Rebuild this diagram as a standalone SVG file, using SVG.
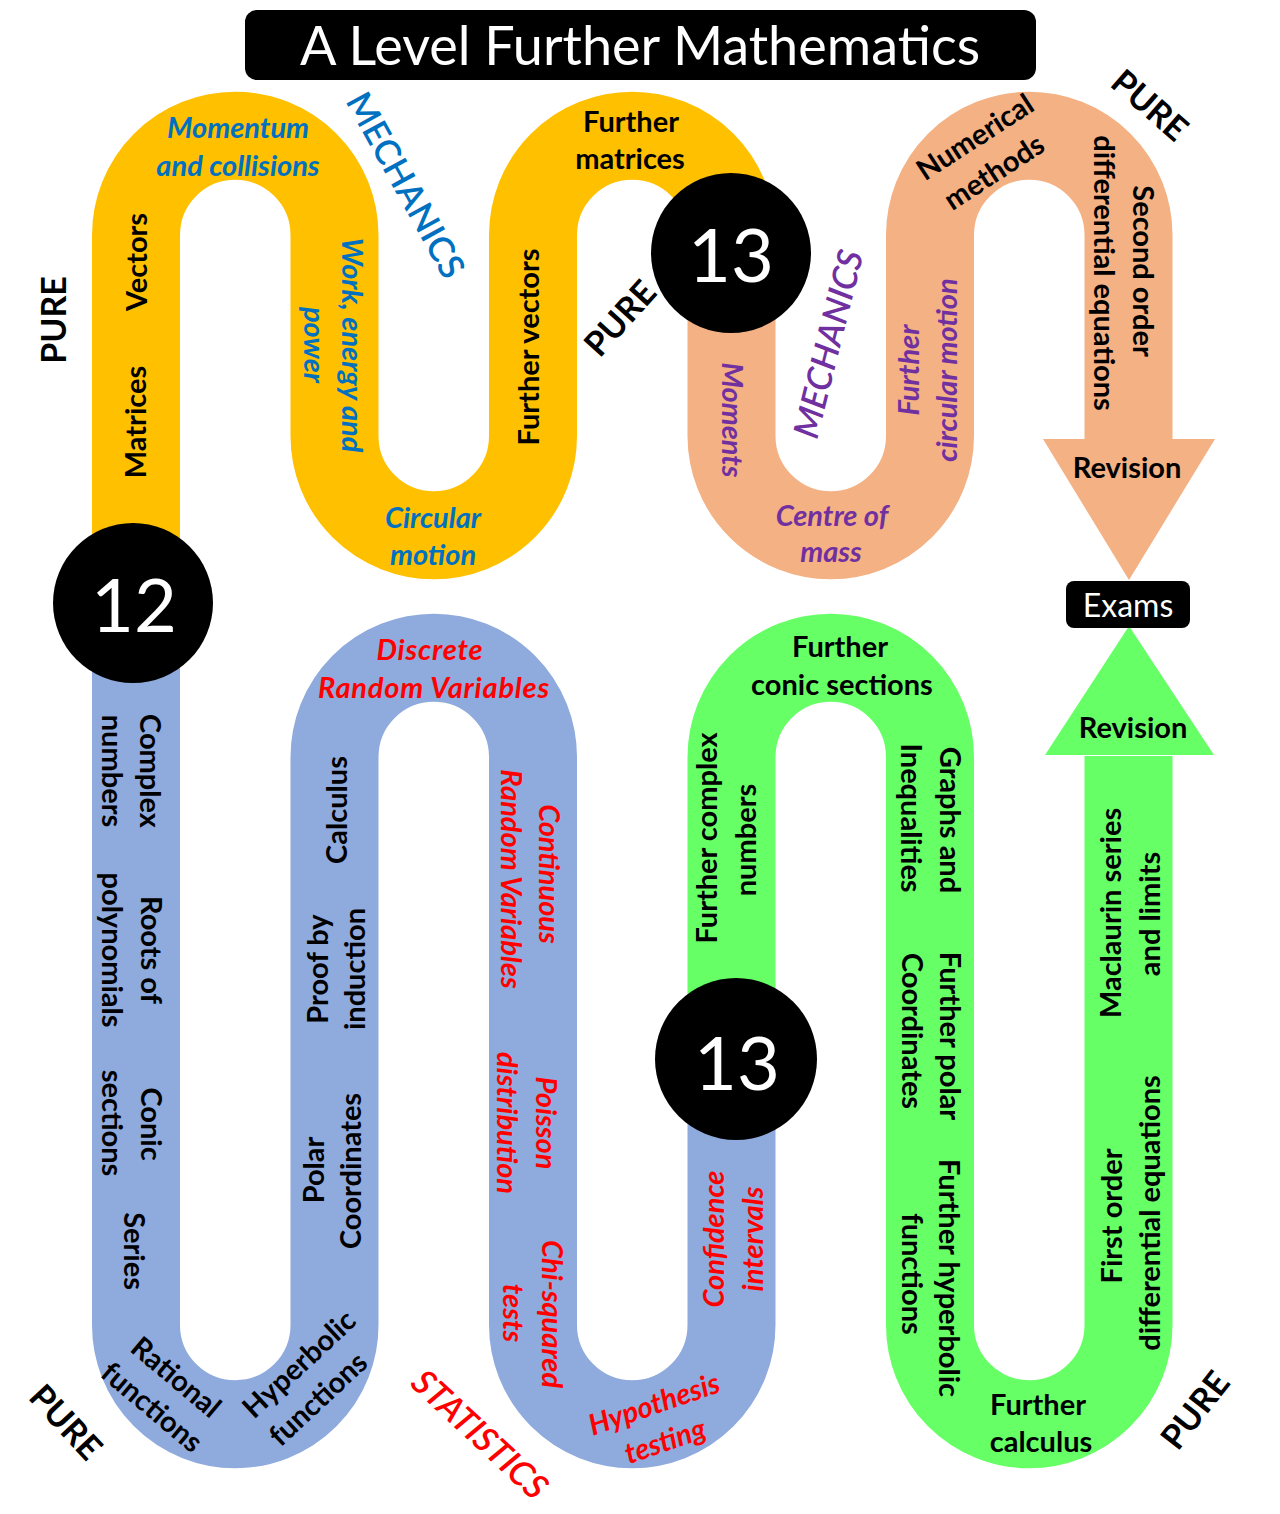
<svg xmlns="http://www.w3.org/2000/svg" width="1280" height="1514" viewBox="0 0 1280 1514">
<style>
text { font-family: Lato, "Open Sans", "Liberation Sans", sans-serif; text-anchor: middle; }
.band { fill: none; stroke-width: 88; stroke-linecap: butt; stroke-linejoin: round; }
.b { font-weight: 700; font-size: 29px; fill: #000; }
.it { font-style: italic; font-weight: 700; font-size: 29px; }
.blue { fill: #0070C0; }
.purple { fill: #7030A0; }
.red { fill: #FF0000; }
.pure { font-weight: 700; font-size: 34px; fill: #000; }
.sec { font-weight: 600; font-size: 35px; }
.num { font-size: 74px; fill: #fff; }
.dot { fill: #000; }
.wide { letter-spacing: 0.8px; }
</style>
<rect width="1280" height="1514" fill="#fff"/>

<g id="connectors">
  <path id="road-yellow" class="band" stroke="#FFC000" d="M136,603 V235 A99.25,99.25 0 0 1 334.5,235 V436 A99.25,99.25 0 0 0 533,436 V235 A99.25,99.25 0 0 1 731.5,235 V253"/>
  <path id="road-orange" class="band" stroke="#F4B183" d="M731.5,253 V436 A99.25,99.25 0 0 0 930,436 V235 A99.25,99.25 0 0 1 1128.5,235 V440"/>
  <polygon id="arrow-orange" fill="#F4B183" points="1043,439 1215,439 1129,580"/>
  <path id="road-blue" class="band" stroke="#8FAADC" d="M731.5,1059 V1325 A99.25,99.25 0 0 1 533,1325 V757 A99.25,99.25 0 0 0 334.5,757 V1325 A99.25,99.25 0 0 1 136,1325 V603"/>
  <path id="road-green" class="band" stroke="#66FF66" d="M1128.5,756 V1325 A99.25,99.25 0 0 1 930,1325 V757 A99.25,99.25 0 0 0 731.5,757 V1059"/>
  <polygon id="arrow-green" fill="#66FF66" points="1045,755 1214,755 1129,626"/>
</g>

<g id="title">
  <rect x="245" y="10" width="791" height="70" rx="12" fill="#000"/>
  <text x="640" y="65" font-size="54" fill="#fff">A Level Further Mathematics</text>
</g>

<g id="year-12">
  <circle class="dot" cx="133" cy="603" r="80"/>
  <text class="num" x="134" y="632">12</text>
</g>
<g id="year-13-top">
  <circle class="dot" cx="731" cy="253" r="80"/>
  <text class="num" x="731" y="282">13</text>
</g>
<g id="year-13-bottom">
  <circle class="dot" cx="736" cy="1059" r="81"/>
  <text class="num" x="737" y="1090">13</text>
</g>

<g id="exams">
  <rect x="1066" y="581" width="124" height="47" rx="8" fill="#000"/>
  <text x="1128" y="617" font-size="32" fill="#fff">Exams</text>
</g>

<g id="section-labels">
  <text class="pure" transform="translate(54,320) rotate(-90)" dy=".36em">PURE</text>
  <text class="sec blue" transform="translate(406,185) rotate(61)" dy=".36em">MECHANICS</text>
  <text class="pure" transform="translate(620,318) rotate(-48)" dy=".36em">PURE</text>
  <text class="sec purple" font-style="italic" transform="translate(828,344) rotate(-76)" dy=".36em">MECHANICS</text>
  <text class="pure" transform="translate(1150,105) rotate(41)" dy=".36em">PURE</text>
  <text class="pure" transform="translate(66,1422) rotate(47)" dy=".36em">PURE</text>
  <text class="sec red" font-style="italic" transform="translate(480,1434) rotate(43)" dy=".36em">STATISTICS</text>
  <text class="pure" transform="translate(1195,1410) rotate(-52)" dy=".36em">PURE</text>
</g>

<g id="topics">
  <g id="t-momentum">
    <text class="it blue" x="238" y="138">Momentum</text>
    <text class="it blue" x="238" y="176">and collisions</text>
  </g>
  <g id="t-vectors"><text class="b" transform="translate(137,262) rotate(-90)" dy=".35em">Vectors</text></g>
  <g id="t-matrices"><text class="b" transform="translate(136,422) rotate(-90)" dy=".35em">Matrices</text></g>
  <g id="t-work">
    <text class="it blue" transform="translate(352,345) rotate(90)" dy=".35em">Work, energy and</text>
    <text class="it blue" transform="translate(314,345) rotate(90)" dy=".35em">power</text>
  </g>
  <g id="t-circular">
    <text class="it blue" x="433" y="528">Circular</text>
    <text class="it blue" x="433" y="565">motion</text>
  </g>
  <g id="t-further-vectors"><text class="b" transform="translate(529,347) rotate(-90)" dy=".35em">Further vectors</text></g>
  <g id="t-further-matrices">
    <text class="b" x="631" y="132">Further</text>
    <text class="b" x="630" y="169">matrices</text>
  </g>
  <g id="t-moments"><text class="it purple" transform="translate(732,420) rotate(90)" dy=".35em">Moments</text></g>
  <g id="t-centre">
    <text class="it purple" x="832" y="526">Centre of</text>
    <text class="it purple" x="831" y="562">mass</text>
  </g>
  <g id="t-further-circular">
    <text class="it purple" transform="translate(909,370) rotate(-90)" dy=".35em">Further</text>
    <text class="it purple" transform="translate(947,370) rotate(-90)" dy=".35em">circular motion</text>
  </g>
  <g id="t-numerical">
    <text class="b" transform="translate(975,137) rotate(-33)" dy=".35em">Numerical</text>
    <text class="b" transform="translate(994,172) rotate(-33)" dy=".35em">methods</text>
  </g>
  <g id="t-second-order">
    <text class="b" transform="translate(1143,271) rotate(90)" dy=".35em">Second order</text>
    <text class="b" transform="translate(1104,273) rotate(90)" dy=".35em">differential equations</text>
  </g>
  <g id="t-revision-1"><text class="b" x="1127" y="478">Revision</text></g>

  <g id="t-complex">
    <text class="b" transform="translate(150,771) rotate(90)" dy=".35em">Complex</text>
    <text class="b" transform="translate(112,771) rotate(90)" dy=".35em">numbers</text>
  </g>
  <g id="t-roots">
    <text class="b" transform="translate(151,950) rotate(90)" dy=".35em">Roots of</text>
    <text class="b" transform="translate(112,950) rotate(90)" dy=".35em">polynomials</text>
  </g>
  <g id="t-conic">
    <text class="b" transform="translate(151,1124) rotate(90)" dy=".35em">Conic</text>
    <text class="b" transform="translate(112,1123) rotate(90)" dy=".35em">sections</text>
  </g>
  <g id="t-series"><text class="b" transform="translate(134,1251) rotate(90)" dy=".35em">Series</text></g>
  <g id="t-rational">
    <text class="b" transform="translate(176,1377) rotate(40)" dy=".35em">Rational</text>
    <text class="b" transform="translate(152,1407) rotate(40)" dy=".35em">functions</text>
  </g>
  <g id="t-hyperbolic">
    <text class="b" transform="translate(299,1364) rotate(-43)" dy=".35em">Hyperbolic</text>
    <text class="b" transform="translate(318,1399) rotate(-43)" dy=".35em">functions</text>
  </g>
  <g id="t-calculus"><text class="b" transform="translate(337,810) rotate(-90)" dy=".35em">Calculus</text></g>
  <g id="t-proof">
    <text class="b" transform="translate(318,969) rotate(-90)" dy=".35em">Proof by</text>
    <text class="b" transform="translate(355,969) rotate(-90)" dy=".35em">induction</text>
  </g>
  <g id="t-polar">
    <text class="b" transform="translate(314,1170) rotate(-90)" dy=".35em">Polar</text>
    <text class="b" transform="translate(351,1171) rotate(-90)" dy=".35em">Coordinates</text>
  </g>
  <g id="t-discrete">
    <text class="it red wide" x="430" y="660">Discrete</text>
    <text class="it red wide" x="434" y="698">Random Variables</text>
  </g>
  <g id="t-continuous">
    <text class="it red" transform="translate(549,874) rotate(90)" dy=".35em">Continuous</text>
    <text class="it red" transform="translate(511,879) rotate(90)" dy=".35em">Random Variables</text>
  </g>
  <g id="t-poisson">
    <text class="it red" transform="translate(546,1123) rotate(90)" dy=".35em">Poisson</text>
    <text class="it red" transform="translate(507,1123) rotate(90)" dy=".35em">distribution</text>
  </g>
  <g id="t-chi">
    <text class="it red" transform="translate(552,1314) rotate(90)" dy=".35em">Chi-squared</text>
    <text class="it red" transform="translate(513,1313) rotate(90)" dy=".35em">tests</text>
  </g>
  <g id="t-hypothesis">
    <text class="it red" transform="translate(654,1404) rotate(-19)" dy=".35em">Hypothesis</text>
    <text class="it red" transform="translate(665,1441) rotate(-19)" dy=".35em">testing</text>
  </g>
  <g id="t-confidence">
    <text class="it red" transform="translate(714,1239) rotate(-90)" dy=".35em">Confidence</text>
    <text class="it red" transform="translate(753,1239) rotate(-90)" dy=".35em">intervals</text>
  </g>

  <g id="t-further-complex">
    <text class="b" transform="translate(707,838) rotate(-90)" dy=".35em">Further complex</text>
    <text class="b" transform="translate(746,840) rotate(-90)" dy=".35em">numbers</text>
  </g>
  <g id="t-further-conic">
    <text class="b" x="840" y="657">Further</text>
    <text class="b" x="842" y="695">conic sections</text>
  </g>
  <g id="t-graphs">
    <text class="b" transform="translate(950,820) rotate(90)" dy=".35em">Graphs and</text>
    <text class="b" transform="translate(911,818) rotate(90)" dy=".35em">Inequalities</text>
  </g>
  <g id="t-further-polar">
    <text class="b" transform="translate(950,1036) rotate(90)" dy=".35em">Further polar</text>
    <text class="b" transform="translate(912,1031) rotate(90)" dy=".35em">Coordinates</text>
  </g>
  <g id="t-further-hyperbolic">
    <text class="b" transform="translate(949,1278) rotate(90)" dy=".35em">Further hyperbolic</text>
    <text class="b" transform="translate(912,1274) rotate(90)" dy=".35em">functions</text>
  </g>
  <g id="t-further-calculus">
    <text class="b" x="1038" y="1415">Further</text>
    <text class="b" x="1041" y="1452">calculus</text>
  </g>
  <g id="t-first-order">
    <text class="b" transform="translate(1112,1216) rotate(-90)" dy=".35em">First order</text>
    <text class="b" transform="translate(1150,1213) rotate(-90)" dy=".35em">differential equations</text>
  </g>
  <g id="t-maclaurin">
    <text class="b" transform="translate(1111,913) rotate(-90)" dy=".35em">Maclaurin series</text>
    <text class="b" transform="translate(1150,914) rotate(-90)" dy=".35em">and limits</text>
  </g>
  <g id="t-revision-2"><text class="b" x="1133" y="738">Revision</text></g>
</g>
</svg>
